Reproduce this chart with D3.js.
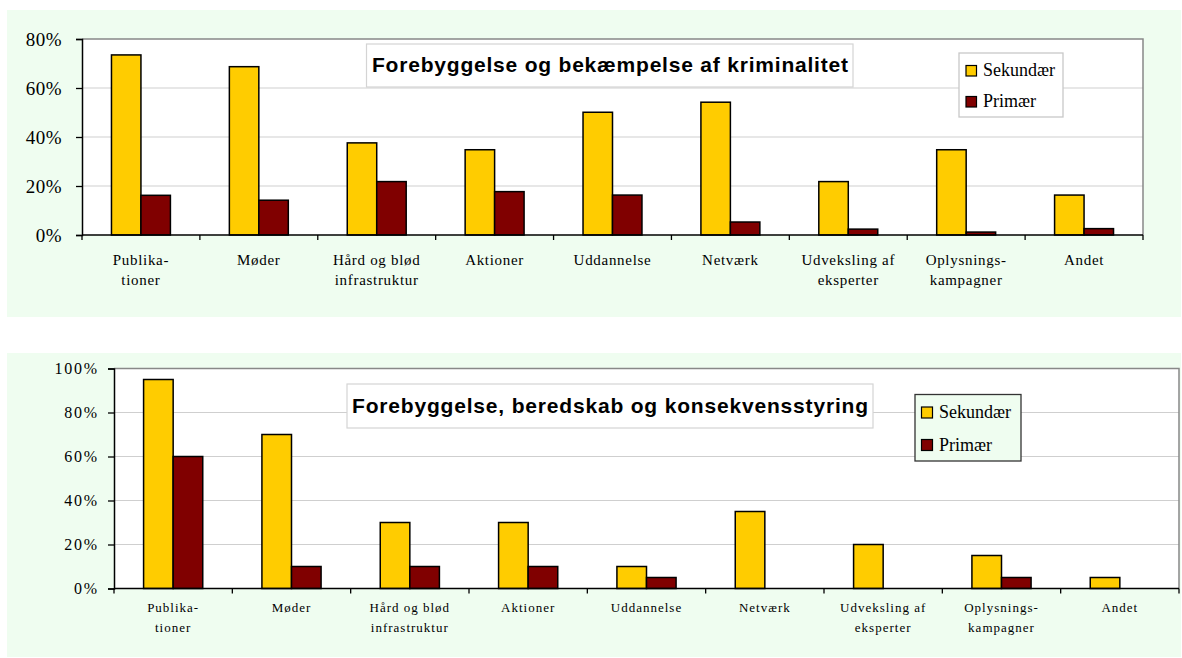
<!DOCTYPE html>
<html><head><meta charset="utf-8">
<script src="https://cdn.jsdelivr.net/npm/d3@7"></script>
<style>
html,body{margin:0;padding:0;background:#fff;}
svg{display:block;}
</style></head>
<body>
<svg id="chart" width="1182" height="658"></svg>
<script>
// ---- Data ----
const categories = [["Publika-","tioner"],["Møder"],["Hård og blød","infrastruktur"],["Aktioner"],["Uddannelse"],["Netværk"],["Udveksling af","eksperter"],["Oplysnings-","kampagner"],["Andet"]];
const seriesNames = ["Sekundær","Primær"];
const title1 = "Forebyggelse og bekæmpelse af kriminalitet";
const sekundaer1 = [73.5, 68.7, 37.6, 34.8, 50.1, 54.2, 21.8, 34.8, 16.3];
const primaer1   = [16.2, 14.2, 21.8, 17.7, 16.3, 5.3, 2.4, 1.2, 2.6];
const yTicks1 = [0, 20, 40, 60, 80];
const title2 = "Forebyggelse, beredskab og konsekvensstyring";
const sekundaer2 = [95, 70, 30, 30, 10, 35, 20, 15, 5];
const primaer2   = [60, 10, 10, 10, 5, 0, 0, 5, 0];
const yTicks2 = [0, 20, 40, 60, 80, 100];

const colors = ["#FFCC00", "#800000"];
const svg = d3.select("#chart");
const SERIF = "'Liberation Serif', 'Times New Roman', serif";
const SANS = "'Liberation Sans', Arial, sans-serif";

function drawChart(cfg) {
  const g = svg.append("g");
  g.append("rect").attr("x", cfg.panel[0]).attr("y", cfg.panel[1])
    .attr("width", cfg.panel[2]-cfg.panel[0]).attr("height", cfg.panel[3]-cfg.panel[1])
    .attr("fill", "#effdf0");
  const [L, T, R, B] = cfg.plot;
  const keys = categories.map(c => c.join(" "));
  const x0 = d3.scaleBand().domain(keys).range([L, R]);
  const x1 = d3.scaleBand().domain(seriesNames).range([0, x0.bandwidth()]).paddingOuter(1).paddingInner(0);
  const y = d3.scaleLinear().domain([0, d3.max(cfg.ticks)]).range([B, T]);

  g.append("rect").attr("x", L).attr("y", T).attr("width", R-L).attr("height", B-T).attr("fill", "#fff");
  g.selectAll(".grid").data(cfg.ticks.filter(t => t > 0 && t < d3.max(cfg.ticks))).join("line")
    .attr("x1", L).attr("x2", R).attr("y1", d => y(d)).attr("y2", d => y(d))
    .attr("stroke", "#cfcfcf").attr("stroke-width", 1.2);
  g.append("path").attr("d", `M${L},${T}H${R}V${B}`).attr("fill", "none").attr("stroke", "#888").attr("stroke-width", 1.5);

  const tb = cfg.titleBox;
  g.append("rect").attr("x", tb[0]).attr("y", tb[1]).attr("width", tb[2]-tb[0]).attr("height", tb[3]-tb[1])
    .attr("fill", "#fff").attr("stroke", "#d4d4d4").attr("stroke-width", 1.2);
  g.append("text").attr("x", cfg.titleX[0]).attr("y", cfg.titleY)
    .attr("textLength", cfg.titleX[1]-cfg.titleX[0]).attr("lengthAdjust", "spacing")
    .style("font-family", SANS).style("font-weight", "bold")
    .style("font-size", cfg.titleSize + "px").attr("fill", "#000").text(cfg.title);

  const data = [];
  categories.forEach((c, i) => {
    data.push({cat: keys[i], s: seriesNames[0], v: cfg.s1[i], c: colors[0]});
    data.push({cat: keys[i], s: seriesNames[1], v: cfg.s2[i], c: colors[1]});
  });
  g.selectAll(".bar").data(data.filter(d => d.v > 0)).join("rect")
    .attr("x", d => x0(d.cat) + x1(d.s)).attr("width", x1.bandwidth())
    .attr("y", d => y(d.v)).attr("height", d => y(0) - y(d.v))
    .attr("fill", d => d.c).attr("stroke", "#000").attr("stroke-width", 1.5);

  // y axis
  const yAxis = d3.axisLeft(y).tickValues(cfg.ticks).tickFormat(d => d + "%").tickSizeOuter(0).tickSize(6).tickPadding(cfg.yPad);
  const ya = g.append("g").attr("transform", `translate(${L},0)`).call(yAxis);
  ya.attr("font-family", null).attr("font-size", null);
  ya.select(".domain").attr("stroke", "#000").attr("stroke-width", 1.5);
  ya.selectAll(".tick line").attr("stroke", "#000").attr("stroke-width", 1.3);
  ya.selectAll(".tick text").style("font-family", SERIF)
    .style("font-size", cfg.yFont + "px").style("letter-spacing", cfg.yLS + "px").attr("fill", "#000");

  // x axis
  const xa = g.append("g").attr("transform", `translate(0,${B})`);
  xa.append("line").attr("x1", L).attr("x2", R).attr("stroke", "#000").attr("stroke-width", 1.5);
  const bounds = keys.map(k => x0(k)).concat([R]);
  xa.selectAll(".xt").data(bounds).join("line")
    .attr("x1", d => d).attr("x2", d => d).attr("y1", 0).attr("y2", 5).attr("stroke", "#000").attr("stroke-width", 1.3);
  categories.forEach((c, i) => {
    const t = xa.append("text").attr("text-anchor", "middle")
      .style("font-family", SERIF)
      .style("font-size", cfg.xFont + "px").style("letter-spacing", cfg.xLS + "px").attr("fill", "#000");
    c.forEach((line, j) => {
      t.append("tspan").attr("x", x0(keys[i]) + x0.bandwidth()/2).attr("y", cfg.xBase - B + j*cfg.xLine).text(line);
    });
  });

  // legend
  const lb = cfg.legendBox;
  const lg = g.append("g");
  lg.append("rect").attr("x", lb[0]).attr("y", lb[1]).attr("width", lb[2]-lb[0]).attr("height", lb[3]-lb[1])
    .attr("fill", cfg.legendFill).attr("stroke", cfg.legendStroke).attr("stroke-width", 1.3);
  seriesNames.forEach((s, i) => {
    const yy = cfg.legendY[i];
    lg.append("rect").attr("x", cfg.legendSqX).attr("y", yy - cfg.sq).attr("width", cfg.sq).attr("height", cfg.sq)
      .attr("fill", colors[i]).attr("stroke", "#000").attr("stroke-width", 1.2);
    lg.append("text").attr("x", cfg.legendTX).attr("y", yy)
      .style("font-family", SERIF).style("font-size", cfg.legendFont + "px")
      .attr("fill", "#000").text(s);
  });
}

drawChart({
  panel: [7, 10, 1181, 317],
  plot: [82, 39, 1143, 235],
  ticks: yTicks1, s1: sekundaer1, s2: primaer1,
  title: title1, titleBox: [366.5, 44, 853, 87], titleX: [372, 848], titleY: 72, titleSize: 21,
  yFont: 19, yLS: 0.5, yPad: 14,
  xFont: 15, xLS: 0.7, xBase: 265, xLine: 20,
  legendBox: [959, 53, 1063, 117], legendFill: "#fff", legendStroke: "#c8c8c8",
  legendSqX: 966, sq: 10.5, legendY: [76, 107], legendTX: 983, legendFont: 18
});

drawChart({
  panel: [7, 353, 1181, 657],
  plot: [114, 368.5, 1179, 588.5],
  ticks: yTicks2, s1: sekundaer2, s2: primaer2,
  title: title2, titleBox: [347, 384, 873, 428], titleX: [352, 868], titleY: 413, titleSize: 21,
  yFont: 16, yLS: 1.8, yPad: 9,
  xFont: 13, xLS: 1, xBase: 612, xLine: 19.5,
  legendBox: [915, 394.5, 1021, 461], legendFill: "#effdf0", legendStroke: "#333",
  legendSqX: 921.5, sq: 11, legendY: [418, 450.5], legendTX: 939, legendFont: 18
});
</script>
</body></html>
